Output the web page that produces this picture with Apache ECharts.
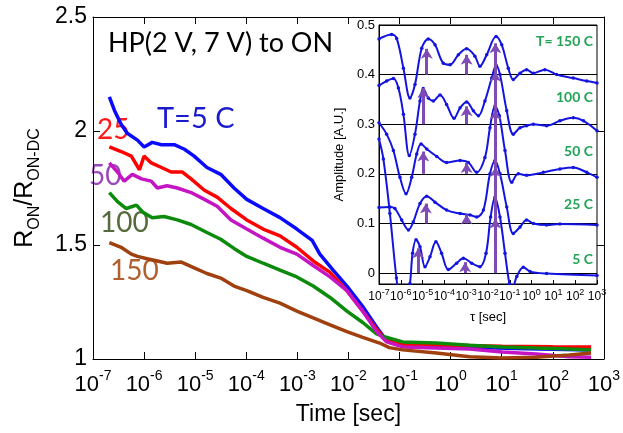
<!DOCTYPE html>
<html>
<head>
<meta charset="utf-8">
<script src="https://cdn.jsdelivr.net/npm/echarts@6/dist/echarts.min.js"></script>
<style>
html, body { margin: 0; padding: 0; background: #fff; }
#chart { width: 623px; height: 433px; }
</style>
</head>
<body>
<div id="chart"></div>
<script>
// main plot, points are [log10(time / s), R_ON / R_ON-DC]
const curve5C = [[-6.68,2.15],[-6.58,2.09],[-6.45,2.03],[-6.33,1.99],[-6.13,1.96],[-6.0,1.93],[-5.84,1.95],[-5.66,1.94],[-5.41,1.94],[-5.21,1.92],[-5.02,1.89],[-4.77,1.84],[-4.5,1.81],[-4.24,1.75],[-3.99,1.70],[-3.67,1.66],[-3.34,1.62],[-3.01,1.57],[-2.71,1.52],[-2.56,1.46],[-2.3,1.39],[-2.03,1.32],[-1.72,1.23],[-1.45,1.14],[-1.25,1.08],[-1.0,1.06],[-0.5,1.055],[0.5,1.05],[1.5,1.045],[2.75,1.04]];
const curve25C = [[-6.68,1.93],[-6.45,1.91],[-6.25,1.89],[-6.09,1.83],[-6.0,1.89],[-5.86,1.86],[-5.66,1.84],[-5.47,1.82],[-5.25,1.82],[-5.08,1.79],[-4.82,1.74],[-4.57,1.71],[-4.3,1.66],[-3.99,1.61],[-3.67,1.57],[-3.34,1.54],[-3.01,1.49],[-2.69,1.43],[-2.36,1.38],[-2.03,1.30],[-1.72,1.21],[-1.45,1.13],[-1.25,1.08],[-0.94,1.065],[0,1.06],[1,1.056],[2,1.054],[2.75,1.053]];
const curve50C = [[-6.68,1.86],[-6.52,1.82],[-6.39,1.78],[-6.23,1.81],[-6.05,1.79],[-5.86,1.78],[-5.74,1.75],[-5.55,1.76],[-5.35,1.75],[-5.08,1.73],[-4.82,1.70],[-4.57,1.67],[-4.3,1.61],[-3.99,1.57],[-3.67,1.53],[-3.34,1.49],[-3.01,1.46],[-2.69,1.41],[-2.36,1.36],[-2.03,1.30],[-1.72,1.21],[-1.45,1.12],[-1.25,1.075],[-0.94,1.053],[-0.28,1.048],[0.37,1.044],[1.01,1.031],[1.67,1.022],[2.32,1.01],[2.75,1.008]];
const curve100C = [[-6.68,1.73],[-6.52,1.69],[-6.35,1.66],[-6.15,1.675],[-6.03,1.645],[-5.84,1.62],[-5.61,1.625],[-5.35,1.61],[-5.08,1.59],[-4.77,1.555],[-4.5,1.525],[-4.24,1.485],[-3.99,1.45],[-3.67,1.42],[-3.34,1.39],[-3.01,1.36],[-2.69,1.32],[-2.36,1.27],[-2.03,1.21],[-1.72,1.16],[-1.45,1.11],[-1.33,1.10],[-0.94,1.075],[-0.28,1.07],[0.37,1.06],[1.01,1.053],[1.67,1.048],[2.32,1.044],[2.75,1.04]];
const curve150C = [[-6.68,1.51],[-6.45,1.49],[-6.25,1.46],[-6.13,1.45],[-5.94,1.44],[-5.74,1.43],[-5.55,1.42],[-5.27,1.425],[-5.02,1.40],[-4.77,1.375],[-4.5,1.355],[-4.24,1.32],[-3.99,1.30],[-3.67,1.27],[-3.34,1.245],[-3.01,1.21],[-2.69,1.18],[-2.36,1.15],[-2.03,1.12],[-1.72,1.095],[-1.39,1.07],[-1.2,1.05],[-0.94,1.04],[-0.28,1.026],[0.37,1.01],[1.01,1.004],[1.67,1.008],[2.32,1.018],[2.75,1.026]];

// inset, points are [log10(tau / s), amplitude]
const tau150C = [[-7,0.472],[-6.42,0.481],[-6.19,0.473],[-5.88,0.413],[-5.58,0.353],[-5.35,0.38],[-5.04,0.453],[-4.74,0.472],[-4.43,0.46],[-4.05,0.423],[-3.74,0.42],[-3.36,0.44],[-2.98,0.452],[-2.6,0.437],[-2.37,0.417],[-2.06,0.44],[-1.63,0.477],[-1.37,0.46],[-1.07,0.413],[-0.84,0.39],[-0.53,0.403],[-0.23,0.41],[0.08,0.403],[0.61,0.41],[1.15,0.40],[1.91,0.393],[2.53,0.387],[3,0.383]];
const tau100C = [[-7,0.378],[-6.65,0.387],[-6.34,0.392],[-6.11,0.373],[-5.88,0.32],[-5.61,0.237],[-5.35,0.28],[-5.12,0.347],[-4.97,0.372],[-4.74,0.353],[-4.51,0.347],[-4.2,0.359],[-3.9,0.34],[-3.56,0.312],[-3.28,0.333],[-2.98,0.345],[-2.67,0.327],[-2.44,0.317],[-2.14,0.347],[-1.83,0.393],[-1.63,0.419],[-1.45,0.4],[-1.14,0.327],[-0.84,0.28],[-0.53,0.293],[-0.23,0.297],[0.08,0.3],[0.69,0.297],[1.3,0.307],[1.91,0.313],[2.38,0.307],[3,0.287]];
const tau50C = [[-7,0.303],[-6.65,0.28],[-6.34,0.247],[-6.04,0.193],[-5.76,0.16],[-5.5,0.193],[-5.27,0.24],[-5.07,0.26],[-4.81,0.25],[-4.35,0.235],[-3.9,0.223],[-3.28,0.227],[-2.9,0.223],[-2.52,0.203],[-2.14,0.233],[-1.91,0.293],[-1.68,0.337],[-1.48,0.317],[-1.22,0.247],[-0.91,0.183],[-0.61,0.2],[-0.23,0.197],[0.54,0.203],[1.3,0.21],[1.91,0.213],[2.53,0.203],[3,0.193]];
const tau25C = [[-7,0.132],[-6.5,0.133],[-6.27,0.13],[-5.96,0.107],[-5.65,0.087],[-5.43,0.103],[-5.12,0.14],[-4.81,0.155],[-4.43,0.143],[-3.9,0.127],[-3.28,0.12],[-2.82,0.117],[-2.52,0.113],[-2.21,0.127],[-1.91,0.2],[-1.68,0.227],[-1.45,0.2],[-1.14,0.133],[-0.84,0.08],[-0.53,0.093],[-0.23,0.107],[0.08,0.1],[0.69,0.097],[1.3,0.099],[3,0.097]];
const tau5C = [[-7,0.27],[-6.8,0.23],[-6.5,0.12],[-6.2,-0.01],[-5.9,-0.1],[-5.58,-0.021],[-5.46,0.04],[-5.3,0.067],[-5.12,0.053],[-4.89,0.013],[-4.66,0.033],[-4.39,0.063],[-4.13,0.04],[-3.82,0.007],[-3.44,0.02],[-3.13,0.03],[-2.75,0.02],[-2.37,0.013],[-2.09,0.04],[-1.88,0.113],[-1.68,0.153],[-1.45,0.113],[-1.22,0.04],[-1.02,-0.021],[-0.91,-0.035],[-0.68,-0.007],[-0.38,0.012],[-0.07,0.003],[0.69,-0.001],[3,-0.005]];

// arrows in the inset: [log10(tau), base, tip]
const peakArrows = [
  [-4.81,0.4,0.452],[-2.98,0.4,0.44],[-1.66,0.4,0.463],
  [-4.97,0.3,0.373],[-2.98,0.3,0.336],[-1.66,0.3,0.406],
  [-4.97,0.2,0.245],[-2.98,0.2,0.222],[-1.66,0.2,0.329],
  [-4.85,0.1,0.14],[-2.98,0.1,0.118],[-1.66,0.1,0.214],
  [-5.2,0,0.05],[-3.05,0,0.022],[-1.66,0,0.11]
];

const mainColors = ['#0a0aff', '#ff0000', '#c414c4', '#0c8a0c', '#a0400e'];
const insetTempLabels = ['T= 150 C', '100 C', '50 C', '25 C', '5 C'];

const chart = echarts.init(document.getElementById('chart'));

function expLabel(v) {
  return '{b|10}{s|' + v + '}';
}

const tickFont = 'Liberation Sans, Arial, sans-serif';
const textFont = 'Lato, sans-serif';

function mainLine(data, color) {
  return {
    type: 'line', xAxisIndex: 0, yAxisIndex: 0, data: data,
    showSymbol: false, lineStyle: {color: color, width: 3.5}, itemStyle: {color: color}
  };
}

function insetLine(data) {
  return {
    type: 'line', xAxisIndex: 2, yAxisIndex: 2, data: data, smooth: 0.35,
    symbol: 'circle', symbolSize: 3.5, showAllSymbol: true,
    lineStyle: {color: '#1414e0', width: 2}, itemStyle: {color: '#1414e0'}
  };
}

const insetTextTops = [34, 90, 144, 197, 252];
const blackLine = {show: true, onZero: false, lineStyle: {color: '#000', width: 1}};
const mainTick = {show: true, inside: true, length: 7, lineStyle: {color: '#000'}};

const option = {
  animation: false,
  grid: [
    {left: 93, right: 18, top: 17, bottom: 74},
    {left: 379, right: 26, top: 25, bottom: 149, show: true, backgroundColor: '#fff', borderColor: '#000', borderWidth: 1}
  ],
  xAxis: [
    {
      type: 'value', gridIndex: 0, min: -7, max: 3, interval: 1,
      name: 'Time [sec]', nameLocation: 'middle', nameGap: 44,
      nameTextStyle: {fontFamily: tickFont, fontSize: 23, color: '#000'},
      axisLine: blackLine, axisTick: mainTick,
      splitLine: {show: false},
      axisLabel: {
        formatter: expLabel, margin: 10, color: '#000',
        rich: {
          b: {fontFamily: tickFont, fontSize: 22, lineHeight: 27, verticalAlign: 'bottom', color: '#000'},
          s: {fontFamily: tickFont, fontSize: 14, lineHeight: 14, verticalAlign: 'top', color: '#000'}
        }
      }
    },
    {
      type: 'value', gridIndex: 0, position: 'top', min: -7, max: 3, interval: 1,
      axisLine: blackLine, axisTick: mainTick,
      axisLabel: {show: false}, splitLine: {show: false}
    },
    {
      type: 'value', gridIndex: 1, min: -7, max: 3, interval: 1,
      name: 'τ [sec]', nameLocation: 'middle', nameGap: 27,
      nameTextStyle: {fontFamily: tickFont, fontSize: 13, color: '#000'},
      axisLine: blackLine,
      axisTick: {show: true, inside: true, length: 4, lineStyle: {color: '#000'}},
      splitLine: {show: false},
      axisLabel: {
        formatter: expLabel, margin: 4, color: '#000',
        rich: {
          b: {fontFamily: tickFont, fontSize: 12, lineHeight: 15, verticalAlign: 'bottom', color: '#000'},
          s: {fontFamily: tickFont, fontSize: 9, lineHeight: 9, verticalAlign: 'top', color: '#000'}
        }
      }
    }
  ],
  yAxis: [
    {
      type: 'value', gridIndex: 0, position: 'left', min: 1, max: 2.5, interval: 0.5,
      name: '{r|R}{sub|ON}{r|/R}{sub|ON-DC}', nameLocation: 'middle', nameGap: 50, nameRotate: 90,
      nameTextStyle: {
        rich: {
          r: {fontFamily: tickFont, fontSize: 25, lineHeight: 30, verticalAlign: 'top', color: '#000'},
          sub: {fontFamily: tickFont, fontSize: 16, lineHeight: 16, verticalAlign: 'bottom', color: '#000'}
        }
      },
      axisLine: blackLine, axisTick: mainTick,
      splitLine: {show: false},
      axisLabel: {fontFamily: tickFont, fontSize: 23, color: '#000', margin: 6, formatter: v => String(v)}
    },
    {
      type: 'value', gridIndex: 0, position: 'right', min: 1, max: 2.5, interval: 0.5,
      axisLine: blackLine, axisTick: mainTick,
      axisLabel: {show: false}, splitLine: {show: false}
    },
    {
      type: 'value', gridIndex: 1, min: -0.022, max: 0.5,
      name: 'Amplitude [A.U.]', nameLocation: 'middle', nameGap: 33,
      nameTextStyle: {fontFamily: tickFont, fontSize: 13, color: '#000'},
      axisLine: blackLine,
      axisTick: {show: false},
      splitLine: {show: true, lineStyle: {color: '#000', width: 1}},
      axisLabel: {
        fontFamily: tickFont, fontSize: 13, color: '#000', margin: 4, showMinLabel: false,
        formatter: v => (v < 0 ? '' : (v === 0 ? '0' : v.toFixed(1)))
      }
    }
  ],
  series: [
    mainLine(curve5C, mainColors[0]),
    mainLine(curve25C, mainColors[1]),
    mainLine(curve100C, mainColors[3]),
    mainLine(curve50C, mainColors[2]),
    mainLine(curve150C, mainColors[4]),
    insetLine(tau150C),
    insetLine(tau100C),
    insetLine(tau50C),
    insetLine(tau25C),
    insetLine(tau5C),
    {
      type: 'line', xAxisIndex: 2, yAxisIndex: 2, data: [], z: 5,
      markLine: {
        silent: true, symbol: ['none', 'arrow'], symbolSize: [9, 10],
        label: {show: false},
        lineStyle: {color: '#7e4cb4', width: 3, type: 'solid'},
        data: peakArrows.map(a => [{coord: [a[0], a[1]]}, {coord: [a[0], a[2]]}])
      }
    }
  ],
  graphic: [
    {type: 'text', x: 108, y: 30, style: {text: 'HP(2 V, 7 V) to ON', font: '27px ' + textFont, fill: '#000'}},
    {type: 'text', x: 157, y: 104, style: {text: 'T=5 C', font: '29px ' + textFont, fill: '#1a1acc'}},
    {type: 'text', x: 97, y: 116, style: {text: '25', font: '28px ' + textFont, fill: '#ff1a1a'}},
    {type: 'text', x: 89, y: 162, style: {text: '50', font: '28px ' + textFont, fill: '#9a48b8'}},
    {type: 'text', x: 100, y: 209, style: {text: '100', font: '28px ' + textFont, fill: '#566b3c'}},
    {type: 'text', x: 110, y: 257, style: {text: '150', font: '28px ' + textFont, fill: '#b0602f'}}
  ].concat(insetTempLabels.map((t, i) => ({
    type: 'text', x: 593, y: insetTextTops[i], z: 10,
    style: {text: t, font: 'bold 14px ' + textFont, fill: '#22a355', align: 'right', verticalAlign: 'top'}
  })))
};

chart.setOption(option);
window.addEventListener('resize', function () {
  chart.resize();
});
</script>
</body>
</html>
